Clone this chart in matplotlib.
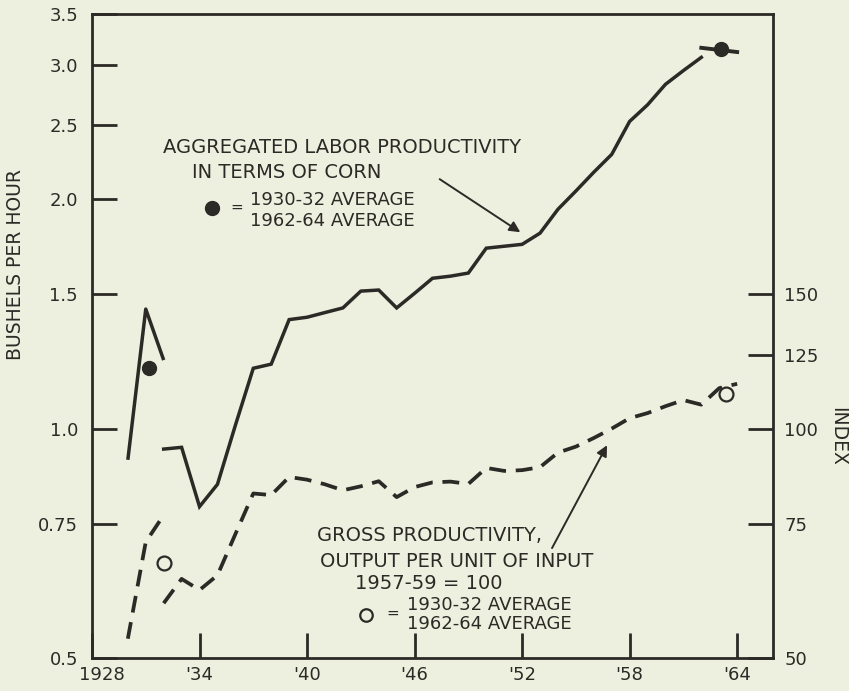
import matplotlib
matplotlib.use("Agg")
import matplotlib.pyplot as plt
from matplotlib.ticker import FixedLocator, FixedFormatter, NullLocator
from matplotlib.transforms import ScaledTranslation

# labor productivity, bushels of corn per hour (left axis)
labor_early_years = [1930, 1931, 1932]
labor_early = [0.91, 1.435, 1.23]
labor_years = list(range(1932, 1963))
labor = [0.94, 0.945, 0.79, 0.845, 1.01, 1.20, 1.215, 1.39, 1.40, 1.42,
         1.44, 1.515, 1.52, 1.44, 1.505, 1.575, 1.585, 1.60, 1.725, 1.735,
         1.745, 1.805, 1.94, 2.05, 2.17, 2.29, 2.53, 2.66, 2.83, 2.95, 3.07]
labor_avg_years = [1931.2, 1963.1]
labor_avg = [1.20, 3.15]
labor_bar_years = [1962, 1964]
labor_bar = [3.16, 3.12]

# gross productivity index, 1957-59 = 100 (right axis)
gross_early_years = [1930, 1931, 1932]
gross_early = [53, 71, 77]
gross_years = list(range(1932, 1965))
gross = [59, 63.5, 61.4, 64.2, 72.7, 82.2, 81.8, 86.4, 85.7, 84.5,
         83.0, 84.0, 85.3, 81.3, 83.8, 85.0, 85.2, 84.6, 88.8, 88.0,
         88.2, 89.0, 93.0, 94.7, 97.2, 100.0, 103.2, 104.8, 107.0, 109.0,
         107.5, 113.0, 114.5]
gross_avg_years = [1932.0, 1963.4]
gross_avg = [66.6, 111.0]

left_ticks = [0.5, 0.75, 1.0, 1.5, 2.0, 2.5, 3.0, 3.5]
left_labels = ["0.5", "0.75", "1.0", "1.5", "2.0", "2.5", "3.0", "3.5"]
right_ticks = [50, 75, 100, 125, 150]
right_labels = ["50", "75", "100", "125", "150"]
x_ticks = [1928, 1934, 1940, 1946, 1952, 1958, 1964]
x_labels = ["1928", "'34", "'40", "'46", "'52", "'58", "'64"]

bg = "#eef0df"
ink = "#2b2a26"

plt.rcParams["font.family"] = ["DejaVu Sans"]
fig = plt.figure(figsize=(8.49, 6.91), dpi=100, facecolor=bg)
ax = fig.add_axes([92 / 849, 1 - 658 / 691, 681 / 849, 644 / 691])
ax.set_facecolor(bg)
ax2 = ax.twinx()

ax.set_yscale("log")
ax2.set_yscale("log")
ax.set_xlim(1928, 1966)
ax.set_ylim(0.5, 3.5)
ax2.set_ylim(50, 350)

ax.plot(labor_early_years, labor_early, color=ink, lw=2.5, solid_capstyle="butt")
ax.plot(labor_years, labor, color=ink, lw=2.5, solid_joinstyle="miter")
ax.plot(labor_bar_years, labor_bar, color=ink, lw=2.8)
ax.plot(labor_avg_years, labor_avg, "o", color=ink, ms=10)

ax2.plot(gross_early_years, gross_early, color=ink, lw=2.7, dashes=(4.5, 2.6))
ax2.plot(gross_years, gross, color=ink, lw=2.7, dashes=(4.5, 2.6))
ax2.plot(gross_avg_years, gross_avg, "o", mfc="none", mec=ink, mew=1.6, ms=10)

for s in ax.spines.values():
    s.set_linewidth(2.0)
    s.set_color(ink)
for s in ax2.spines.values():
    s.set_visible(False)

ax.yaxis.set_major_locator(FixedLocator(left_ticks))
ax.yaxis.set_major_formatter(FixedFormatter(left_labels))
ax.yaxis.set_minor_locator(NullLocator())
ax2.yaxis.set_major_locator(FixedLocator(right_ticks))
ax2.yaxis.set_major_formatter(FixedFormatter(right_labels))
ax2.yaxis.set_minor_locator(NullLocator())
ax.xaxis.set_major_locator(FixedLocator(x_ticks))
ax.xaxis.set_major_formatter(FixedFormatter(x_labels))

ax.tick_params(axis="y", direction="in", length=18, width=2.0, color=ink,
               labelsize=13, labelcolor=ink, pad=10)
ax.tick_params(axis="x", direction="in", length=18, width=2.0, color=ink,
               labelsize=13, labelcolor=ink, pad=6)
ax2.tick_params(axis="y", direction="in", length=18, width=2.0, color=ink,
                labelsize=13, labelcolor=ink, pad=8)
first = ax.get_xticklabels()[0]
first.set_transform(first.get_transform() + ScaledTranslation(0.10, 0, fig.dpi_scale_trans))

ax.set_ylabel("BUSHELS PER HOUR", fontsize=13.5, color=ink, va="center")
ax.yaxis.set_label_coords((16 - 92) / 681, 1 - (265 - 14) / 644)
ax2.set_ylabel("INDEX", fontsize=13.5, color=ink, rotation=-90, va="center")
ax2.yaxis.set_label_coords((838 - 92) / 681, 1 - (436 - 14) / 644)

# upper annotation
tk = dict(fontsize=14, color=ink, va="center", ha="left")
ak = dict(fontsize=13, color=ink, va="center", ha="left")
ax.text(1931.96, 2.34, "AGGREGATED LABOR PRODUCTIVITY", **tk)
ax.text(1933.58, 2.17, "IN TERMS OF CORN", **tk)
ax.plot([1934.7], [1.95], "o", color=ink, ms=10)
ax.text(1935.7, 1.95, "=", fontsize=11, color=ink, va="center", ha="left")
ax.text(1936.8, 1.995, "1930-32 AVERAGE", **ak)
ax.text(1936.8, 1.875, "1962-64 AVERAGE", **ak)
ax.annotate("", xy=(1951.9, 1.81), xytext=(1947.4, 2.125),
            arrowprops=dict(arrowstyle="-|>", color=ink, lw=1.4,
                            mutation_scale=16, shrinkA=0, shrinkB=0))

# lower annotation
ax2.text(1940.56, 72.3, "GROSS PRODUCTIVITY,", **tk)
ax2.text(1940.72, 67.0, "OUTPUT PER UNIT OF INPUT", **tk)
ax2.text(1942.68, 62.7, "1957-59 = 100", **tk)
ax2.plot([1943.3], [56.9], "o", mfc="none", mec=ink, mew=1.6, ms=9)
ax2.text(1944.4, 57.2, "=", fontsize=11, color=ink, va="center", ha="left")
ax2.text(1945.6, 58.7, "1930-32 AVERAGE", **ak)
ax2.text(1945.6, 55.4, "1962-64 AVERAGE", **ak)
ax2.annotate("", xy=(1956.74, 95.1), xytext=(1953.67, 69.7),
             arrowprops=dict(arrowstyle="-|>", color=ink, lw=1.4,
                             mutation_scale=16, shrinkA=0, shrinkB=0))

fig.savefig("out.png", dpi=100, facecolor=bg)
